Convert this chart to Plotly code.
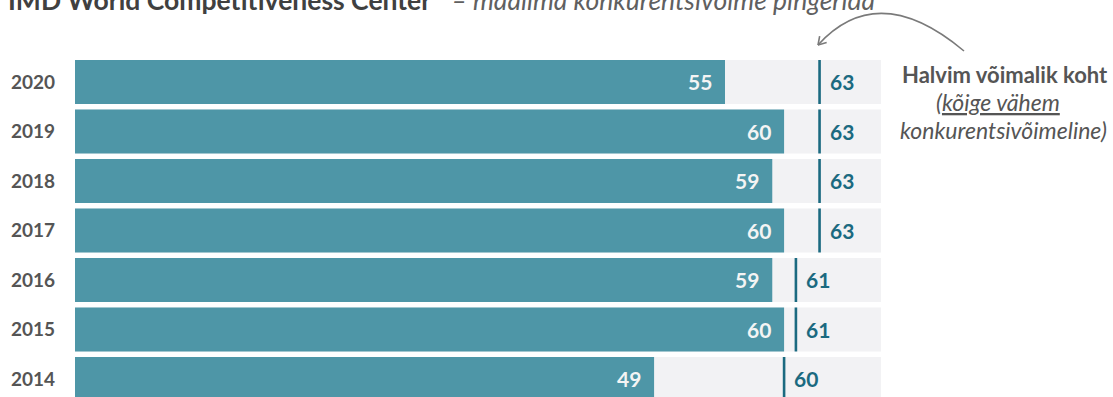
import math
import plotly.graph_objects as go

# ---- data ----
years = ["2014", "2015", "2016", "2017", "2018", "2019", "2020"]
estonia_rank = [49, 60, 59, 60, 59, 60, 55]
worst_rank = [60, 61, 61, 63, 63, 63, 63]
scale_max = 68.2

title_main = "IMD World Competitiveness Center"
title_sub = "– maailma konkurentsivõime pingerida"
note_line1 = "Halvim võimalik koht"
note_line2 = "(<u>kõige vähem</u>"
note_line3 = "konkurentsivõimeline)"

# ---- styles ----
TEAL = "#4e96a7"
GRAY_BG = "#f2f2f4"
DARK = "#1b6a80"
TEXT = "#555555"
FONT = "Lato"

W, H = 1113, 397
L, R, T, B = 75, 232, 55, 0
PW, PH = W - L - R, H - T - B


def px(x):
    return (x - L) / PW


def py(y):
    return 1 - (y - T) / PH


fig = go.Figure()
fig.add_bar(y=years, x=[scale_max] * len(years), orientation="h",
            marker=dict(color=GRAY_BG, line=dict(width=0)), width=0.89,
            hoverinfo="skip", showlegend=False)
fig.add_bar(y=years, x=estonia_rank, orientation="h",
            marker=dict(color=TEAL, line=dict(width=0)), width=0.89,
            showlegend=False)
# line-ns symbol length is 1.4 * size
fig.add_scatter(y=years, x=worst_rank, mode="markers", showlegend=False,
                marker=dict(symbol="line-ns", size=44 / 1.4, color=DARK,
                            line=dict(width=2.6, color=DARK)),
                cliponaxis=False)

ann = []
for i, v in enumerate(estonia_rank):
    ann.append(dict(x=v, y=i, xref="x", yref="y", text=f"<b>{v}</b>",
                    showarrow=False, xanchor="right", yanchor="middle",
                    xshift=-11, font=dict(family=FONT, size=21, color="#f4f4f4")))
for i, v in enumerate(worst_rank):
    ann.append(dict(x=v, y=i, xref="x", yref="y", text=f"<b>{v}</b>",
                    showarrow=False, xanchor="left", yanchor="middle",
                    xshift=8, font=dict(family=FONT, size=21, color=DARK)))

# title (partly cut off at top, as in the reference)
ann.append(dict(x=px(6), y=py(0), xref="paper", yref="paper",
                text=f"<b>{title_main}</b>   <span style='color:#606060'><i>{title_sub}</i></span>",
                showarrow=False, xanchor="left", yanchor="middle",
                font=dict(family=FONT, size=26.5, color="#404040")))

# right note
ann.append(dict(x=px(1005), y=py(74), xref="paper", yref="paper", text=f"<b>{note_line1}</b>",
                showarrow=False, xanchor="center", yanchor="middle",
                font=dict(family=FONT, size=22, color=TEXT)))
ann.append(dict(x=px(998), y=py(102), xref="paper", yref="paper", text=f"<i>{note_line2}</i>",
                showarrow=False, xanchor="center", yanchor="middle",
                font=dict(family=FONT, size=23, color=TEXT)))
ann.append(dict(x=px(1003), y=py(130), xref="paper", yref="paper", text=f"<i>{note_line3}</i>",
                showarrow=False, xanchor="center", yanchor="middle",
                font=dict(family=FONT, size=23, color=TEXT)))

# curved arrow (decoration)
x0, y0 = 964, 51
cx, cy = 878, -21
x1, y1 = 818, 45
path = f"M {px(x0)},{py(y0)} Q {px(cx)},{py(cy)} {px(x1)},{py(y1)}"
shapes = [dict(type="path", xref="paper", yref="paper", path=path,
               line=dict(color="#7a7a7a", width=1.6))]
dx, dy = cx - x1, cy - y1
n = math.hypot(dx, dy)
dx, dy = dx / n, dy / n
for ang in (0.55, -0.55):
    rx = dx * math.cos(ang) - dy * math.sin(ang)
    ry = dx * math.sin(ang) + dy * math.cos(ang)
    shapes.append(dict(type="line", xref="paper", yref="paper",
                       x0=px(x1), y0=py(y1), x1=px(x1 + 9 * rx), y1=py(y1 + 9 * ry),
                       line=dict(color="#7a7a7a", width=1.6)))

fig.update_layout(
    width=W, height=H,
    margin=dict(l=L, r=R, t=T, b=B, pad=0),
    barmode="overlay",
    plot_bgcolor="white", paper_bgcolor="white",
    font=dict(family=FONT),
    annotations=ann, shapes=shapes,
    hovermode=False,
    xaxis=dict(range=[0, scale_max], visible=False, fixedrange=True),
    yaxis=dict(type="category", categoryorder="array", categoryarray=years,
               range=[-0.364, 6.545], showgrid=False, zeroline=False, showline=False,
               ticks="", ticklabelstandoff=19, fixedrange=True,
               tickfont=dict(family=FONT, size=19, color=TEXT, weight="bold")),
)

fig.write_html("out.html", config={"displayModeBar": False},
               post_script="document.body.style.margin='0';document.body.style.overflow='hidden';")
